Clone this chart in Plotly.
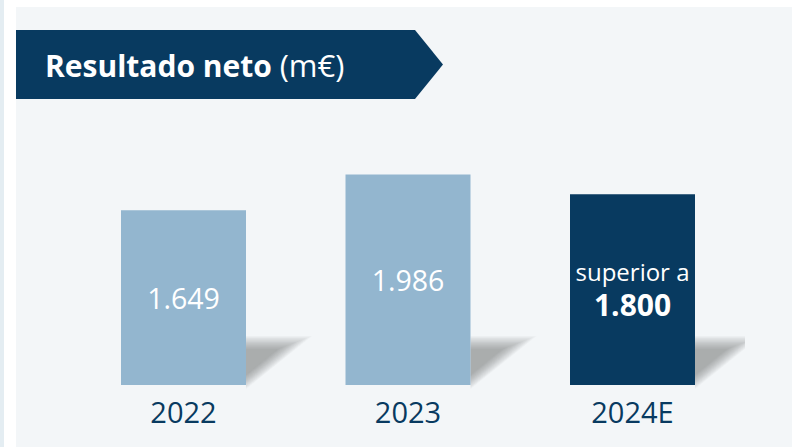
import plotly.graph_objects as go

# ---- data ----
categories = ["2022", "2023", "2024E"]
values = [1649, 1986, 1800]
bar_labels = ["1.649", "1.986",
              "<span style='font-size:24px'>superior a</span><br><b><span style='font-size:30px'>1.800</span></b>"]
bar_colors = ["#93b6cf", "#93b6cf", "#083a60"]
title_bold = "Resultado neto"
title_unit = "(m€)"

W, H = 792, 447
NAVY = "#083a60"
PANEL = "#f3f6f8"
FONT = "Open Sans"

# axis geometry
base_px = 385          # pixel row of zero
ppu = 0.106            # pixels per unit
step = 224.5           # pixels between category centers
c0 = 183.5             # pixel center of first category
bar_w = 125 / step
xa = -c0 / step
xb = xa + W / step
ytop = base_px / ppu


def px(x):
    return x / W


def py(y):
    return (base_px - y) / base_px


fig = go.Figure()
fig.add_trace(go.Bar(
    x=categories, y=values, width=bar_w,
    marker=dict(color=bar_colors, line=dict(width=0)),
    text=bar_labels, textposition="inside", insidetextanchor="middle",
    textfont=dict(family=FONT, size=[28.5, 28.5, 27], color="white"),
    textangle=0, hoverinfo="skip", cliponaxis=False,
))

shapes = []
# background panel and strips
shapes.append(dict(type="rect", xref="paper", yref="paper", x0=0, x1=1,
                   y0=py(H), y1=py(0), fillcolor="white", line_width=0, layer="below"))
shapes.append(dict(type="rect", xref="paper", yref="paper", x0=px(16), x1=px(W),
                   y0=py(H), y1=py(7), fillcolor=PANEL, line_width=0, layer="below"))
shapes.append(dict(type="rect", xref="paper", yref="paper", x0=px(0), x1=px(4),
                   y0=py(H), y1=py(0), fillcolor="#e4edf2", line_width=0, layer="below"))

# banner arrow
bx = [16, 415, 443, 415, 16]
by = [30, 30, 64.5, 99, 99]
path = "M " + " L ".join(f"{px(a):.5f},{py(b):.5f}" for a, b in zip(bx, by)) + " Z"
shapes.append(dict(type="path", xref="paper", yref="paper", path=path,
                   fillcolor=NAVY, line_width=0, layer="below"))

# soft shadows to the right of each bar
N = 16
for i in range(len(categories)):
    R = c0 + i * step + 62.5
    for k in range(N):
        t = k / (N - 1)
        top = 336 + 13 * t
        wdt = 66 - 34 * t
        bot = 389 - 14 * t
        xm = min(R + wdt, 745)
        ydiag = top + (bot - top) * (1 - (xm - R) / wdt)
        pts = [(R, top), (xm, top), (xm, ydiag), (R, bot)]
        p = "M " + " L ".join(f"{px(a):.5f},{py(b):.5f}" for a, b in pts) + " Z"
        shapes.append(dict(type="path", xref="paper", yref="paper", path=p,
                           fillcolor="rgba(95,100,105,0.038)", line_width=0, layer="below"))

fig.update_layout(shapes=shapes)

fig.add_annotation(xref="paper", yref="paper", x=px(43), y=py(64.5),
                   xanchor="left", yanchor="middle", showarrow=False,
                   text=f"<b>{title_bold}</b> <span style='font-size:31px'>{title_unit}</span>",
                   font=dict(family=FONT, size=30, color="white"))

fig.update_layout(
    width=W, height=H,
    margin=dict(l=0, r=0, t=0, b=H - base_px, pad=0),
    paper_bgcolor="white", plot_bgcolor="rgba(0,0,0,0)",
    showlegend=False,
    xaxis=dict(type="category", range=[xa, xb], showgrid=False, zeroline=False,
               showline=False, ticks="", ticklabelstandoff=8,
               tickfont=dict(family=FONT, size=29, color=NAVY), fixedrange=True),
    yaxis=dict(range=[0, ytop], showgrid=False, zeroline=False, showline=False,
               showticklabels=False, ticks="", fixedrange=True),
    font=dict(family=FONT),
)

fig.write_html("out.html", config={"displayModeBar": False},
               post_script="document.body.style.margin='0';document.body.style.overflow='hidden';")
